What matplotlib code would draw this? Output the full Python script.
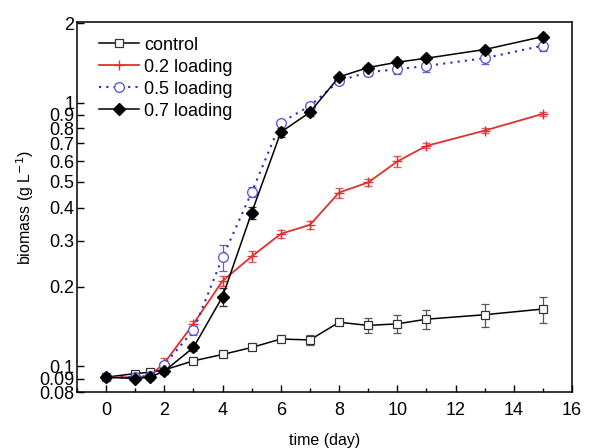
import matplotlib

matplotlib.use("Agg")
import matplotlib.pyplot as plt
from matplotlib.ticker import FixedLocator, FixedFormatter, MultipleLocator, NullLocator

plt.rcParams["font.family"] = ["Liberation Sans", "DejaVu Sans"]

days = [0, 1, 1.5, 2, 3, 4, 5, 6, 7, 8, 9, 10, 11, 13, 15]

control = [0.091, 0.094, 0.095, 0.097, 0.105, 0.111, 0.118, 0.127, 0.126, 0.147, 0.143, 0.145, 0.151, 0.157, 0.165]
control_err = [0.002, 0.002, 0.002, 0.002, 0.002, 0.002, 0.002, 0.002, 0.005, 0.002, 0.009, 0.011, 0.012, 0.016, 0.019]

load02 = [0.091, 0.091, 0.092, 0.103, 0.145, 0.211, 0.261, 0.318, 0.344, 0.456, 0.498, 0.598, 0.685, 0.783, 0.906]
load02_err = [0.002, 0.002, 0.002, 0.005, 0.004, 0.010, 0.012, 0.012, 0.012, 0.020, 0.015, 0.030, 0.015, 0.015, 0.015]

load05 = [0.091, 0.091, 0.092, 0.1015, 0.137, 0.259, 0.457, 0.840, 0.971, 1.208, 1.303, 1.337, 1.377, 1.472, 1.644]
load05_err = [0.002, 0.002, 0.002, 0.002, 0.005, 0.030, 0.020, 0.020, 0.020, 0.030, 0.040, 0.050, 0.070, 0.070, 0.080]

load07 = [0.091, 0.090, 0.091, 0.096, 0.118, 0.184, 0.383, 0.772, 0.919, 1.251, 1.357, 1.422, 1.472, 1.588, 1.778]
load07_err = [0.002, 0.002, 0.002, 0.002, 0.004, 0.015, 0.020, 0.030, 0.030, 0.020, 0.030, 0.020, 0.020, 0.020, 0.020]

labels = ["control", "0.2 loading", "0.5 loading", "0.7 loading"]

y_ticks = [0.08, 0.09, 0.1, 0.2, 0.3, 0.4, 0.5, 0.6, 0.7, 0.8, 0.9, 1, 2]
y_labels = ["0.08", "0.09", "0.1", "0.2", "0.3", "0.4", "0.5", "0.6", "0.7", "0.8", "0.9", "1", "2"]

fig = plt.figure(figsize=(5.9, 4.48), dpi=100)
ax = fig.add_axes([0.1305, 0.125, 0.839, 0.826])

c1 = ax.errorbar(days, control, yerr=control_err, color="black", ecolor="#555555", lw=1.1,
                 marker="s", ms=6, mfc="white", mec="#333333", mew=0.9, capsize=3, elinewidth=0.9,
                 zorder=3)
c2 = ax.errorbar(days, load02, yerr=load02_err, color="#e03030", ecolor="#e06060", lw=1.3,
                 marker="+", ms=7, mew=1.0, capsize=3, elinewidth=0.9, zorder=4)
c3 = ax.errorbar(days, load05, yerr=load05_err, color="#2828c8", ecolor="#6060c8", lw=1.5,
                 ls=(0, (1, 2.5)), marker="o", ms=7, mfc="white", mec="#5050d0", mew=0.9,
                 capsize=3, elinewidth=0.9, zorder=5)
c4 = ax.errorbar(days, load07, yerr=load07_err, color="black", ecolor="#333333", lw=1.1,
                 marker="D", ms=6.5, mfc="black", mec="black", capsize=3, elinewidth=0.9,
                 zorder=6)

ax.set_yscale("log")
ax.set_ylim(0.08, 2.02)
ax.set_xlim(-1, 16)
ax.yaxis.set_major_locator(FixedLocator(y_ticks))
ax.yaxis.set_major_formatter(FixedFormatter(y_labels))
ax.yaxis.set_minor_locator(NullLocator())
ax.xaxis.set_major_locator(MultipleLocator(2))
ax.xaxis.set_minor_locator(MultipleLocator(1))

ax.tick_params(axis="both", which="major", direction="in", length=5, width=1, labelsize=13,
               top=False, right=False)
ax.tick_params(axis="x", which="minor", direction="in", length=3, width=1, top=False)
ax.tick_params(axis="x", which="major", pad=7)
ax.tick_params(axis="y", pad=2)
for s in ax.spines.values():
    s.set_linewidth(1.1)

ax.set_xlabel("time (day)", fontsize=11.5, labelpad=10)
ax.set_ylabel("biomass (g L$^{-1}$)", fontsize=11.5, labelpad=2)

# legend shows line + marker only (no error bars)
handles = [c[0] for c in (c1, c2, c3, c4)]
ax.legend(handles, labels, loc="upper left", frameon=False, fontsize=13, handlelength=2.2,
          handletextpad=0.3, labelspacing=0.28, borderaxespad=0.0,
          bbox_to_anchor=(0.03, 0.98))

fig.savefig("out.png", dpi=100)
